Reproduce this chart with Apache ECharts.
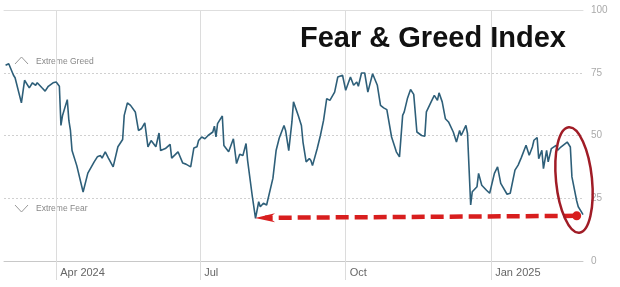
<!DOCTYPE html>
<html>
<head>
<meta charset="utf-8">
<script src="https://cdn.jsdelivr.net/npm/echarts@6/dist/echarts.min.js"></script>
<style>
  html, body { margin: 0; padding: 0; background: #fff; }
  #main { width: 620px; height: 287px; }
</style>
</head>
<body>
<div id="main"></div>
<script>
// Fear & Greed Index, daily readings
var dates = [
  '2024-02-29','2024-03-02','2024-03-03','2024-03-05','2024-03-06','2024-03-10','2024-03-12','2024-03-15',
  '2024-03-17','2024-03-19','2024-03-20','2024-03-23','2024-03-25','2024-03-27','2024-03-28','2024-03-30',
  '2024-04-01','2024-04-03','2024-04-04','2024-04-05','2024-04-08','2024-04-09','2024-04-10','2024-04-11',
  '2024-04-14','2024-04-18','2024-04-21','2024-04-25','2024-04-27','2024-04-29','2024-04-30','2024-05-02',
  '2024-05-04','2024-05-07','2024-05-10','2024-05-13','2024-05-14','2024-05-16','2024-05-18','2024-05-21',
  '2024-05-23','2024-05-25','2024-05-27','2024-05-29','2024-05-31','2024-06-03','2024-06-05','2024-06-06',
  '2024-06-09','2024-06-12','2024-06-13','2024-06-17','2024-06-20','2024-06-22','2024-06-25','2024-06-27',
  '2024-06-29','2024-06-30','2024-07-02','2024-07-04','2024-07-06','2024-07-09','2024-07-10','2024-07-11',
  '2024-07-12','2024-07-15','2024-07-16','2024-07-19','2024-07-22','2024-07-24','2024-07-26','2024-07-28',
  '2024-07-30','2024-07-31','2024-08-03','2024-08-05','2024-08-07','2024-08-08','2024-08-10','2024-08-12',
  '2024-08-16','2024-08-18','2024-08-20','2024-08-23','2024-08-24','2024-08-26','2024-08-28','2024-08-29',
  '2024-09-01','2024-09-03','2024-09-04','2024-09-06','2024-09-08','2024-09-09','2024-09-10','2024-09-13',
  '2024-09-15','2024-09-17','2024-09-19','2024-09-21','2024-09-24','2024-09-26','2024-09-29','2024-09-30',
  '2024-10-01','2024-10-04','2024-10-06','2024-10-08','2024-10-09','2024-10-11','2024-10-13','2024-10-15',
  '2024-10-18','2024-10-21','2024-10-23','2024-10-25','2024-10-27','2024-10-28','2024-10-30','2024-11-01',
  '2024-11-02','2024-11-04','2024-11-06','2024-11-07','2024-11-09','2024-11-11','2024-11-13','2024-11-15',
  '2024-11-18','2024-11-20','2024-11-21','2024-11-24','2024-11-26','2024-11-28','2024-11-29','2024-12-01',
  '2024-12-03','2024-12-05','2024-12-08','2024-12-10','2024-12-12','2024-12-13','2024-12-16','2024-12-17',
  '2024-12-19','2024-12-20','2024-12-23','2024-12-24','2024-12-26','2024-12-29','2024-12-31','2025-01-01',
  '2025-01-03','2025-01-05','2025-01-07','2025-01-08','2025-01-11','2025-01-13','2025-01-16','2025-01-18',
  '2025-01-20','2025-01-23','2025-01-25','2025-01-27','2025-01-28','2025-01-30','2025-01-31','2025-02-02',
  '2025-02-03','2025-02-05','2025-02-06','2025-02-08','2025-02-11','2025-02-12','2025-02-14','2025-02-18',
  '2025-02-20','2025-02-21','2025-02-24','2025-02-25','2025-02-27','2025-02-28'
];
var values = [
  78, 78.6, 79, 74, 73, 63, 72, 69,
  71, 70, 71, 69, 67.7, 69.6, 70, 71,
  71.3, 69.6, 54, 58, 64.3, 56, 52, 44,
  38, 27.5, 35, 39.5, 41.5, 42, 41, 43.5,
  41, 37.5, 45.5, 48.4, 58, 63, 62, 59.4,
  52, 52.8, 55, 45.5, 48, 45.5, 51, 44,
  44.8, 46.5, 41, 43.5, 39, 38.6, 37.5, 45,
  45.5, 48, 49.4, 48.7, 50, 51.4, 53.7, 49.4,
  54.7, 57.8, 46, 43.5, 48.7, 38.8, 42.5, 42,
  46.8, 40, 25.6, 17, 23.6, 21.6, 23, 22.3,
  33, 44, 49, 54, 52, 44, 55.4, 63.4,
  58, 54, 47.4, 39.5, 40.8, 40, 38, 44.8,
  50, 56, 64.7, 64, 67.3, 73.3, 74, 73.3,
  68, 73.3, 70, 71.3, 69.6, 74.9, 74.9, 67.3,
  74.6, 70, 62, 61, 60.3, 60, 49.4, 45.5,
  43.5, 41.5, 58, 59.4, 64.7, 68.3, 66.4, 51.4,
  50, 49.7, 59.4, 63.4, 66, 64, 67, 63.4,
  56.7, 55.4, 51.4, 47.4, 52, 50, 54, 50.8,
  22.3, 27.6, 29.6, 34.9, 30.2, 28.2, 27, 27.6,
  34.9, 37.5, 30.9, 30.2, 26.6, 27, 36.2, 38.2,
  41.2, 46.1, 42.1, 45.4, 48.1, 49.2, 40.8, 44.1,
  36.8, 44.1, 39.5, 44.8, 46.1, 44.1, 45.4, 47.4,
  45.4, 33.5, 24, 21.6, 19.6, 18.5
];

var xMin = '2024-02-28';
var xMax = '2025-02-28';
var xTickDates = ['2024-04-01', '2024-07-01', '2024-10-01', '2025-01-01'];
var xTickLabels = ['Apr 2024', 'Jul', 'Oct', 'Jan 2025'];

// red dashed arrow: from the latest reading back to the August low
var arrowStart = ['2025-02-24', 18];
var arrowEnd = ['2024-08-11', 17.2];

function ts(d) { return echarts.time.parse(d).getTime(); }

var chart = echarts.init(document.getElementById('main'));

var xTickTimes = xTickDates.map(ts);
var seriesData = dates.map(function (d, i) { return [ts(d), values[i]]; });

var option = {
  backgroundColor: '#fff',
  animation: false,
  title: {
    text: 'Fear & Greed Index',
    left: 295,
    top: 19,
    textStyle: { fontFamily: 'Arial', fontWeight: 'bold', fontSize: 29, color: '#111' }
  },
  grid: { left: 4, right: 37, top: 10, bottom: 26 },
  xAxis: [{
    type: 'value',
    min: ts(xMin),
    max: ts(xMax),
    axisLine: { show: true, lineStyle: { color: '#c8c8c8', width: 1 } },
    axisTick: {
      show: true, length: 19, customValues: xTickTimes,
      lineStyle: { color: '#dcdcdc' }
    },
    axisLabel: {
      customValues: xTickTimes,
      align: 'left',
      margin: 6,
      padding: [0, 0, 0, 4],
      fontFamily: 'Arial',
      fontSize: 11,
      color: '#666',
      formatter: function (v) {
        var i = xTickTimes.indexOf(v);
        return i >= 0 ? xTickLabels[i] : '';
      }
    },
    splitLine: { show: true, lineStyle: { color: '#dcdcdc', width: 1 } }
  }, {
    // solid line across the top at 100
    type: 'value',
    position: 'top',
    min: ts(xMin),
    max: ts(xMax),
    axisLine: { show: true, lineStyle: { color: '#dedede', width: 1 } },
    axisTick: { show: false },
    axisLabel: { show: false },
    splitLine: { show: false }
  }],
  yAxis: {
    type: 'value',
    position: 'right',
    min: 0,
    max: 100,
    interval: 25,
    axisLine: { show: false },
    axisTick: { show: false },
    axisLabel: { margin: 8, fontFamily: 'Arial', fontSize: 10, color: '#aaa' },
    splitLine: { show: true, lineStyle: { color: '#d0d0d0', type: [2, 2], width: 1 } }
  },
  series: [{
    type: 'line',
    data: seriesData,
    showSymbol: false,
    symbol: 'none',
    lineStyle: { color: '#2e5f79', width: 1.6 },
    markLine: {
      silent: true,
      symbol: ['circle', 'path://M6,0 L12,14 L6,10 L0,14 Z'],
      symbolSize: [9, 20],
      label: { show: false },
      lineStyle: { color: '#d81e1e', width: 4.5, type: [13, 6] },
      data: [[
        { coord: [ts(arrowStart[0]), arrowStart[1]], itemStyle: { color: '#d81e1e' } },
        { coord: [ts(arrowEnd[0]), arrowEnd[1]], itemStyle: { color: '#d81e1e' } }
      ]]
    }
  }],
  graphic: [
    { type: 'polyline', shape: { points: [[15, 64], [21.5, 57], [28, 64]] }, style: { stroke: '#999', lineWidth: 1, fill: null } },
    { type: 'text', x: 36, y: 62, style: { text: 'Extreme Greed', font: '8.5px Arial', fill: '#888', verticalAlign: 'middle' } },
    { type: 'polyline', shape: { points: [[15, 205], [21.5, 212], [28, 205]] }, style: { stroke: '#999', lineWidth: 1, fill: null } },
    { type: 'text', x: 36, y: 209, style: { text: 'Extreme Fear', font: '8.5px Arial', fill: '#888', verticalAlign: 'middle' } },
    { type: 'ellipse', x: 574, y: 180, rotation: 0.1, shape: { cx: 0, cy: 0, rx: 18, ry: 53 },
      style: { stroke: '#a01c26', lineWidth: 2.5, fill: null }, z: 100 }
  ]
};

chart.setOption(option);
</script>
</body>
</html>
